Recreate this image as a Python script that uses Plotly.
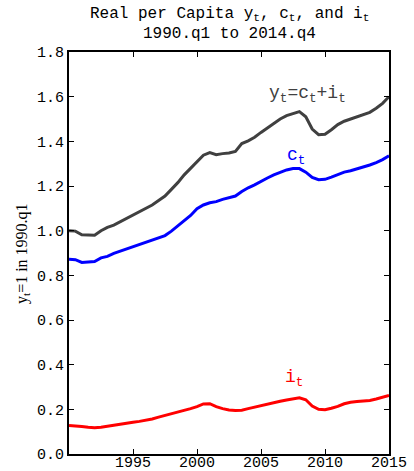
import plotly.graph_objects as go

# time points (years), half-year resolution, 1990.q1 .. 2014.q4
years = [1990.0, 1990.5, 1991.0, 1991.5, 1992.0, 1992.5, 1993.0, 1993.5, 1994.0, 1994.5,
         1995.0, 1995.5, 1996.0, 1996.5, 1997.0, 1997.5, 1998.0, 1998.5, 1999.0, 1999.5,
         2000.0, 2000.5, 2001.0, 2001.5, 2002.0, 2002.5, 2003.0, 2003.5, 2004.0, 2004.5,
         2005.0, 2005.5, 2006.0, 2006.5, 2007.0, 2007.5, 2008.0, 2008.5, 2009.0, 2009.5,
         2010.0, 2010.5, 2011.0, 2011.5, 2012.0, 2012.5, 2013.0, 2013.5, 2014.0, 2014.5,
         2015.0]

y_output = [1.000, 0.998, 0.982, 0.980, 0.980, 1.000, 1.015, 1.025, 1.040, 1.058,
            1.070, 1.085, 1.100, 1.115, 1.135, 1.155, 1.185, 1.215, 1.250, 1.280,
            1.310, 1.338, 1.350, 1.340, 1.345, 1.348, 1.355, 1.390, 1.402, 1.418,
            1.440, 1.460, 1.480, 1.500, 1.515, 1.525, 1.533, 1.510, 1.455, 1.430,
            1.432, 1.452, 1.475, 1.490, 1.500, 1.510, 1.520, 1.530, 1.548, 1.570,
            1.600]

c_consumption = [0.872, 0.870, 0.858, 0.860, 0.862, 0.878, 0.885, 0.898, 0.908, 0.920,
                 0.928, 0.938, 0.950, 0.960, 0.968, 0.978, 0.998, 1.020, 1.045, 1.068,
                 1.098, 1.115, 1.125, 1.130, 1.140, 1.148, 1.155, 1.175, 1.192, 1.205,
                 1.222, 1.236, 1.250, 1.262, 1.272, 1.278, 1.278, 1.262, 1.238, 1.228,
                 1.230, 1.240, 1.252, 1.262, 1.268, 1.276, 1.284, 1.294, 1.305, 1.318,
                 1.335]

i_investment = [0.128, 0.127, 0.123, 0.120, 0.118, 0.120, 0.125, 0.128, 0.132, 0.137,
                0.142, 0.146, 0.150, 0.157, 0.165, 0.172, 0.180, 0.188, 0.195, 0.203,
                0.212, 0.224, 0.225, 0.212, 0.203, 0.197, 0.195, 0.196, 0.203, 0.210,
                0.218, 0.224, 0.230, 0.236, 0.242, 0.248, 0.252, 0.243, 0.215, 0.200,
                0.198, 0.205, 0.213, 0.225, 0.232, 0.235, 0.237, 0.240, 0.246, 0.253,
                0.262]

x_tickvals = [1995, 2000, 2005, 2010, 2015]
x_ticktext = ["1995", "2000", "2005", "2010", "2015"]
y_tickvals = [0.0, 0.2, 0.4, 0.6, 0.8, 1.0, 1.2, 1.4, 1.6, 1.8]
y_ticktext = ["0.0", "0.2", "0.4", "0.6", "0.8", "1.0", "1.2", "1.4", "1.6", "1.8"]

title_line1 = "Real per Capita y<sub>t</sub>, c<sub>t</sub>, and i<sub>t</sub>"
title_line2 = "1990.q1 to 2014.q4"

MONO = "Liberation Mono"
SERIF = "Liberation Serif"

fig = go.Figure()
fig.add_trace(go.Scatter(x=years, y=y_output, mode="lines",
                         line=dict(color="#404040", width=3)))
fig.add_trace(go.Scatter(x=years, y=c_consumption, mode="lines",
                         line=dict(color="#0000ff", width=3)))
fig.add_trace(go.Scatter(x=years, y=i_investment, mode="lines",
                         line=dict(color="#ff0000", width=3)))

fig.add_annotation(x=2008.6, y=1.608, xref="x", yref="y",
                   text="y<sub>t</sub>=c<sub>t</sub>+i<sub>t</sub>", showarrow=False,
                   font=dict(family=MONO, size=18, color="#404040"))
fig.add_annotation(x=2007.73, y=1.33, xref="x", yref="y",
                   text="c<sub>t</sub>", showarrow=False,
                   font=dict(family=MONO, size=18, color="#0000ff"))
fig.add_annotation(x=2007.6, y=0.34, xref="x", yref="y",
                   text="i<sub>t</sub>", showarrow=False,
                   font=dict(family=MONO, size=18, color="#ff0000"))

# title (two lines placed separately for tight spacing)
fig.add_annotation(x=0.5, y=1.094, xref="paper", yref="paper", text=title_line1,
                   showarrow=False, xanchor="center", yanchor="middle",
                   font=dict(family=MONO, size=16, color="#000000"))
fig.add_annotation(x=0.5, y=1.045, xref="paper", yref="paper", text=title_line2,
                   showarrow=False, xanchor="center", yanchor="middle",
                   font=dict(family=MONO, size=16, color="#000000"))

# y-axis title
fig.add_annotation(x=-0.147, y=0.5, xref="paper", yref="paper",
                   text="y<sub>t</sub>=1 in 1990.q1", showarrow=False, textangle=-90,
                   xanchor="center", yanchor="middle",
                   font=dict(family=SERIF, size=16, color="#000000"))

fig.update_layout(
    width=414, height=471,
    margin=dict(l=69, r=25, t=52, b=17),
    paper_bgcolor="white", plot_bgcolor="white",
    showlegend=False,
)

fig.update_xaxes(range=[1990, 2015], tickvals=x_tickvals, ticktext=x_ticktext,
                 showgrid=False, zeroline=False, showline=True, linecolor="black",
                 linewidth=2, mirror="ticks", ticks="inside", ticklen=5, tickwidth=1,
                 tickcolor="black", automargin=False, ticklabelstandoff=-7,
                 tickfont=dict(family=MONO, size=15, color="#000000"))
fig.update_yaxes(range=[0, 1.8], tickvals=y_tickvals, ticktext=y_ticktext,
                 showgrid=False, zeroline=False, showline=True, linecolor="black",
                 linewidth=2, mirror="ticks", ticks="inside", ticklen=5, tickwidth=1,
                 tickcolor="black", automargin=False,
                 tickfont=dict(family=MONO, size=15, color="#000000"))

fig.write_html("out.html", config={"displayModeBar": False},
               post_script="document.body.style.margin='0';document.body.style.overflow='hidden';")
